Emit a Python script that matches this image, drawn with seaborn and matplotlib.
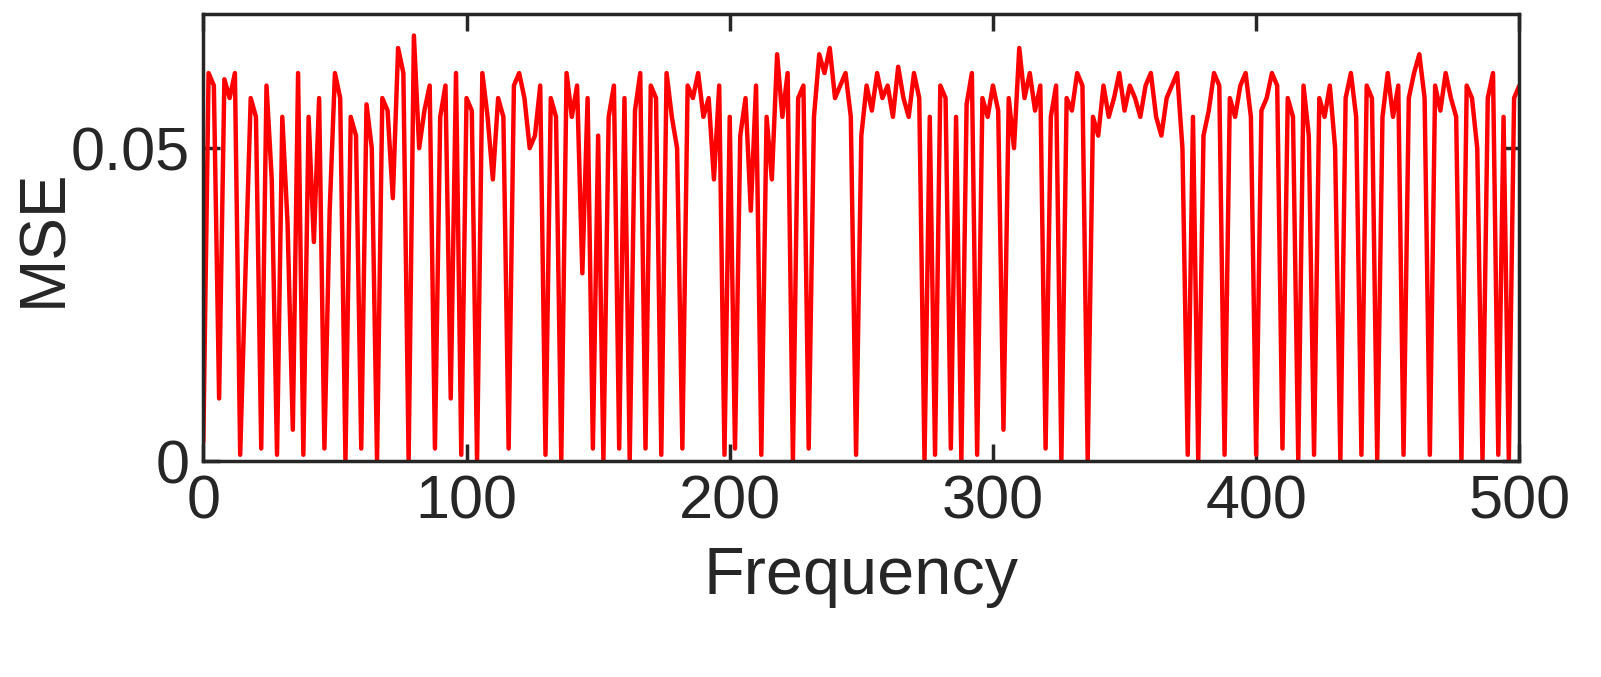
import numpy as np
import pandas as pd
import seaborn as sns
import matplotlib
matplotlib.use("Agg")
import matplotlib.pyplot as plt

seg1 = [3,62,60,10,61,58,62,1,30,58,55,2,60,45,1,55,38,5,62,1,55,35,58,2,40,62]
seg2 = [58,0,55,52,2,57,50,0,58,56,42,66,62,0,68,50,56,60,2,55,60,10,62,1,58]
seg3 = [56,0,62,55,45,58,55,2,60,62,58,50,52,60,1,58,55,0,62,55,60,30,58,2,52]
seg4 = [0,55,60,2,58,0,56,62,2,60,58,1,62,55,50,2,60,58,62,55,58,45,60,1,55]
seg5 = [2,52,58,40,60,1,55,45,65,55,62,0,58,60,2,55,65,62,66,58,60,62,55,1,52]
seg6 = [60,56,62,58,60,55,63,58,55,62,58,0,55,1,60,58,2,55,0,57,62,1,58,55,60]
seg7 = [56,5,58,50,66,58,62,56,60,2,55,60,0,58,56,62,60,0,55,52,60,55,58,62,56]
seg8 = [60,58,55,60,62,55,52,58,60,62,50,1,55,0,52,56,62,60,1,58,55,60,62,55,1]
seg9 = [56,58,62,60,2,58,55,0,60,52,1,58,55,60,50,0,58,62,55,1,60,58,0,55,62]
seg10 = [55,60,1,58,62,65,58,1,60,56,62,58,55,0,60,58,50,0,58,62,1,55,0,58,60]

mse_milli = seg1 + seg2 + seg3 + seg4 + seg5 + seg6 + seg7 + seg8 + seg9 + seg10
mse = np.array(mse_milli) / 1000.0
freq = np.linspace(0, 500, len(mse))
xticks = [0, 100, 200, 300, 400, 500]
yticks = [0, 0.05]
ytick_labels = ["0", "0.05"]

sns.set_theme(style="white")
plt.rcParams['font.family'] = ['Liberation Sans', 'DejaVu Sans']

fig = plt.figure(figsize=(16.01, 6.77), dpi=100)
ax = fig.add_axes([0.127, 0.319, 0.822, 0.66])
df = pd.DataFrame({"Frequency": freq, "MSE": mse})
sns.lineplot(data=df, x="Frequency", y="MSE", color="#ff0000", linewidth=3.2, ax=ax)
ax.set_xlim(0, 500)
ax.set_ylim(0, 0.0714)
ax.set_xticks(xticks)
ax.set_xticklabels([str(t) for t in xticks])
ax.set_yticks(yticks)
ax.set_yticklabels(ytick_labels)
ax.tick_params(direction="in", length=12, width=2.5, labelsize=44, colors="#262626",
               top=True, right=True, left=True, bottom=True, pad=10)
for s in ax.spines.values():
    s.set_linewidth(2.5)
    s.set_color("#262626")
ax.set_xlabel("Frequency", fontsize=48, color="#262626", labelpad=10)
ax.set_ylabel("MSE", fontsize=46, color="#262626")
ax.yaxis.set_label_coords(-0.098, 0.5)
fig.savefig("out.png", dpi=100, facecolor="white")
